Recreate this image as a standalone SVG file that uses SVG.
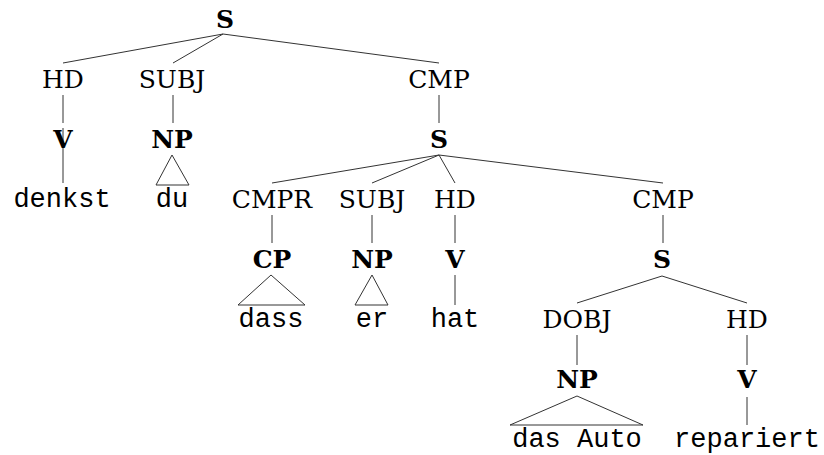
<svg xmlns="http://www.w3.org/2000/svg" width="824" height="455" viewBox="0 0 824 455">
<style>
.lab{font-family:"DejaVu Serif","Liberation Serif",serif;font-size:25px;text-anchor:middle;fill:#000}
.cat{font-family:"DejaVu Serif","Liberation Serif",serif;font-size:25px;font-weight:bold;text-anchor:middle;fill:#000}
.leaf{font-family:"Liberation Mono","Courier New",monospace;font-size:27px;text-anchor:middle;fill:#000}
.e{stroke:#333;stroke-width:1;fill:none}
</style>
<rect width="824" height="455" fill="#fff"/>
<g id="connectors">
  <line class="e" x1="223" y1="34" x2="63" y2="63"/>
  <line class="e" x1="223" y1="34" x2="173" y2="63"/>
  <line class="e" x1="223" y1="34" x2="439" y2="63"/>
  <line class="e" x1="63" y1="95" x2="63" y2="123"/>
  <line class="e" x1="63" y1="128" x2="63" y2="183"/>
  <line class="e" x1="173" y1="95" x2="173" y2="123"/>
  <polygon class="e" points="172,155 156,185 189,185"/>
  <line class="e" x1="439" y1="95" x2="439" y2="123"/>
  <line class="e" x1="439" y1="155" x2="272" y2="183"/>
  <line class="e" x1="439" y1="155" x2="372" y2="183"/>
  <line class="e" x1="439" y1="155" x2="455" y2="183"/>
  <line class="e" x1="439" y1="155" x2="663" y2="183"/>
  <line class="e" x1="272" y1="215" x2="272" y2="243"/>
  <polygon class="e" points="271,275 238,305 305,305"/>
  <line class="e" x1="372" y1="215" x2="372" y2="243"/>
  <polygon class="e" points="372,275 355,305 388,305"/>
  <line class="e" x1="455" y1="215" x2="455" y2="243"/>
  <line class="e" x1="455" y1="275" x2="455" y2="305"/>
  <line class="e" x1="663" y1="215" x2="663" y2="243"/>
  <line class="e" x1="662" y1="276" x2="577" y2="303"/>
  <line class="e" x1="662" y1="276" x2="747" y2="303"/>
  <line class="e" x1="577" y1="335" x2="577" y2="365"/>
  <polygon class="e" points="577,396 510,425 643,425"/>
  <line class="e" x1="747" y1="335" x2="747" y2="365"/>
  <line class="e" x1="747" y1="397" x2="747" y2="425"/>
</g>
<g id="n-S1"><text class="cat" x="225" y="28">S</text></g>
<g id="n-HD1"><text class="lab" x="63" y="88">HD</text></g>
<g id="n-V1"><text class="cat" x="63" y="148">V</text></g>
<g id="n-denkst"><text class="leaf" x="62" y="207">denkst</text></g>
<g id="n-SUBJ1"><text class="lab" x="172" y="88">SUBJ</text></g>
<g id="n-NP1"><text class="cat" x="172" y="148">NP</text></g>
<g id="n-du"><text class="leaf" x="172" y="207">du</text></g>
<g id="n-CMP1"><text class="lab" x="439" y="88">CMP</text></g>
<g id="n-S2"><text class="cat" x="439" y="148">S</text></g>
<g id="n-CMPR"><text class="lab" x="272" y="208">CMPR</text></g>
<g id="n-CP"><text class="cat" x="272" y="268">CP</text></g>
<g id="n-dass"><text class="leaf" x="271" y="327">dass</text></g>
<g id="n-SUBJ2"><text class="lab" x="372" y="208">SUBJ</text></g>
<g id="n-NP2"><text class="cat" x="372" y="268">NP</text></g>
<g id="n-er"><text class="leaf" x="372" y="327">er</text></g>
<g id="n-HD2"><text class="lab" x="455" y="208">HD</text></g>
<g id="n-V2"><text class="cat" x="455" y="268">V</text></g>
<g id="n-hat"><text class="leaf" x="455" y="327">hat</text></g>
<g id="n-CMP2"><text class="lab" x="663" y="208">CMP</text></g>
<g id="n-S3"><text class="cat" x="662" y="268">S</text></g>
<g id="n-DOBJ"><text class="lab" x="577" y="328">DOBJ</text></g>
<g id="n-NP3"><text class="cat" x="577" y="388">NP</text></g>
<g id="n-dasAuto"><text class="leaf" x="577" y="447">das Auto</text></g>
<g id="n-HD3"><text class="lab" x="747" y="328">HD</text></g>
<g id="n-V3"><text class="cat" x="747" y="388">V</text></g>
<g id="n-repariert"><text class="leaf" x="747" y="447">repariert</text></g>
</svg>
